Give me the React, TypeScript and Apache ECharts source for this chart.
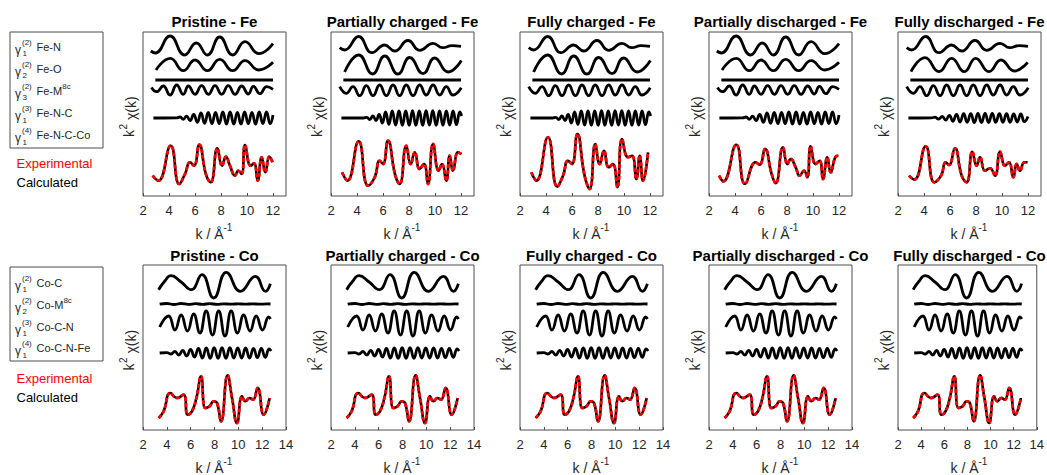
import React, { useEffect, useRef } from 'react';
import * as echarts from 'echarts';

// ---------- text ----------
const FE_TITLES = ['Pristine - Fe', 'Partially charged - Fe', 'Fully charged - Fe', 'Partially discharged - Fe', 'Fully discharged - Fe'];
const CO_TITLES = ['Pristine - Co', 'Partially charged - Co', 'Fully charged - Co', 'Partially discharged - Co', 'Fully discharged - Co'];
// [label, superscript order, subscript index, label superscript]
const FE_LEGEND: [string, string, string, string][] = [
  ['Fe-N', '(2)', '1', ''],
  ['Fe-O', '(2)', '2', ''],
  ['Fe-M', '(2)', '3', '8c'],
  ['Fe-N-C', '(3)', '1', ''],
  ['Fe-N-C-Co', '(4)', '1', ''],
];
const CO_LEGEND: [string, string, string, string][] = [
  ['Co-C', '(2)', '1', ''],
  ['Co-M', '(2)', '2', '8c'],
  ['Co-C-N', '(3)', '1', ''],
  ['Co-C-N-Fe', '(4)', '1', ''],
];

// ---------- axes ----------
const FE_K_MIN = 2;
const FE_K_MAX = 13;
const CO_K_MIN = 2;
const CO_K_MAX = 14;
const K_STEP = 2;

// ---------- Fe row: [k, k^2 chi(k)] (arbitrary units) ----------
const FE_N_A = [[2.6, -5], [2.95, -7], [4.08, 10], [5.2, -9], [6.1, 3], [6.95, -9], [7.9, 9], [8.9, -9], [9.85, 4.3], [10.9, -7.7], [12, 2.3]];
const FE_N_B = [[2.67, -1.7], [3.05, -4], [4.13, 9.5], [5.15, -6.7], [6.13, 1], [6.9, -5], [7.92, 5.5], [8.82, -4.3], [9.85, 2.7], [10.6, -1.7], [11.3, 0.3], [12, -0.3]];
const FE_O_A = [[3.0, -5], [4.1, 6.7], [5.1, -5.7], [6.0, 5], [6.95, -5.7], [7.9, 5.7], [8.9, -5.7], [9.85, 4.3], [10.9, -5], [12, 2.7]];
const FE_O_B = [[3.05, -7], [4.13, 10], [5.2, -9], [6.13, 9], [7.15, -9], [8.05, 7.5], [9.08, -8.7], [9.97, 7], [11.0, -7], [12.03, 4.5]];
const FE_O_C = [[3.0, -6.7], [4.08, 7.3], [5.15, -6.7], [6.13, 6.7], [7.1, -6.7], [7.97, 6.7], [9.0, -6.7], [9.92, 5], [10.95, -6], [11.97, 2.7]];
const FE_M = [[2.95, 0], [12.0, 0]];
const FE_NC_A = [[2.65, 2.5], [3.05, -1.7], [3.56, 4], [4.08, -5], [4.59, 5], [5.1, -4.3], [5.49, 4], [6.0, -4.3], [6.51, 4.3], [7.03, -4.3], [7.54, 4.3], [8.05, -4.3], [8.56, 4.3], [9.08, -4.3], [9.59, 4], [10.1, -4], [10.49, 3.7], [11.0, -3.7], [11.51, 3.3], [12.0, 0.7]];
const FE_NC_B = [[2.67, 3.3], [3.18, -3.3], [3.69, 3.3], [4.21, -5.7], [4.72, 4.3], [5.23, -5.7], [5.74, 5], [6.26, -5.7], [6.77, 5], [7.28, -5.7], [7.79, 5], [8.31, -5.7], [8.82, 5], [9.33, -5], [9.85, 5], [10.36, -5], [10.87, 3.3], [11.38, -5], [12.02, 2.3]];
const FE_NCCO_A = [[2.8, 0], [4.6, 0.2], [4.85, 1], [5.1, -1.3], [5.35, 1.8], [5.62, -2.5], [5.9, 3.5], [6.18, -4.3], [6.46, 5], [6.74, -5.3], [7.02, 5.5], [7.3, -5.7], [7.58, 5.7], [7.86, -5.7], [8.14, 6], [8.42, -6], [8.7, 6], [8.98, -6], [9.26, 5.7], [9.54, -6], [9.82, 6], [10.1, -5.7], [10.38, 5.7], [10.66, -6], [10.94, 6], [11.22, -5.7], [11.5, 6], [11.78, -5.7], [12.0, 3]];
const FE_NCCO_B = [[2.8, 0], [4.5, 0], [4.75, 0.7], [4.98, -1.5], [5.22, 2], [5.46, -2.5], [5.7, 3.5], [5.95, -5], [6.2, 6], [6.45, -6.5], [6.71, 7], [6.97, -7], [7.23, 7], [7.49, -7.3], [7.75, 7], [8.01, -7.3], [8.27, 7.3], [8.53, -7.3], [8.79, 7], [9.05, -7.3], [9.31, 7.3], [9.57, -7], [9.83, 7.3], [10.09, -7.3], [10.35, 7], [10.61, -7.3], [10.87, 7], [11.13, -7], [11.39, 7], [11.65, -6.7], [11.91, 6], [12.05, 2]];
const FE_NCCO_C = [[2.8, 0], [4.6, 0.2], [4.85, 0.8], [5.12, -1.2], [5.4, 1.5], [5.67, -2], [5.95, 2.7], [6.22, -3.3], [6.5, 3.7], [6.77, -4], [7.05, 4.3], [7.32, -4.3], [7.6, 4.3], [7.87, -4.5], [8.15, 4.5], [8.42, -4.5], [8.7, 4.5], [8.97, -4.5], [9.25, 4.5], [9.52, -4.3], [9.8, 4.3], [10.07, -4.3], [10.35, 4.3], [10.62, -4.3], [10.9, 4], [11.17, -4], [11.45, 4], [11.72, -3.7], [12.0, 1.5]];
// total fits (experimental data follows them closely)
const FE_CALC_PRISTINE = [[2.74, -11.7], [3.18, -16.7], [4.13, 18.3], [4.79, -20], [5.23, -10], [5.62, 1.7], [5.92, -1.7], [6.33, 19.3], [6.85, -10.7], [7.21, -18.3], [7.72, 15.7], [8.08, -1.7], [8.38, 7.3], [8.69, -1.7], [9.08, -11.7], [9.33, -6.7], [9.59, -10], [9.85, 19], [10.28, -1.7], [10.54, 0.7], [10.82, -16.7], [11.13, 6.7], [11.41, -8.3], [11.72, 7.3], [11.97, 1.7]];
const FE_CALC_PCH = [[2.85, -8.3], [3.26, -16.7], [4.13, 22.7], [4.85, -21.7], [5.36, -13.3], [5.74, 3.3], [6.0, 0], [6.38, 23.3], [6.95, -11.7], [7.28, -20], [7.79, 18.3], [8.13, 0], [8.44, 11.7], [8.82, -5], [9.15, 0], [9.46, -20], [9.85, 20], [10.28, -6.7], [10.54, 0], [10.87, -16.7], [11.13, 8.3], [11.38, -6.7], [11.77, 11.7], [12.03, 10]];
const FE_CALC_FCH = [[2.87, -8.3], [3.26, -16.7], [4.15, 26.7], [4.87, -22.7], [5.31, -11.7], [5.69, 3.3], [6.0, 0], [6.41, 30], [6.97, -11.7], [7.36, -25], [7.79, 20], [8.13, 0], [8.46, 13.3], [8.82, -3.3], [9.15, 0], [9.49, -23.3], [9.85, 25], [10.31, 6.7], [10.62, 8.3], [10.95, -15], [11.21, 8.3], [11.46, -16.7], [11.85, 11.7]];
const FE_CALC_PDIS = [[2.77, -11.7], [3.1, -17.3], [4.1, 19.3], [4.77, -20], [5.59, 1.7], [5.9, -0.7], [6.31, 15], [6.82, -10], [7.13, -19.3], [7.69, 16.7], [8.03, 0], [8.28, 5], [8.67, -3.3], [8.97, -11.7], [9.31, -6.7], [9.56, -13.3], [9.82, 17.7], [10.2, 0], [10.51, 3.3], [10.77, -15], [11.1, 6.7], [11.36, -8.3], [11.74, 7.3], [11.95, 8.3]];
const FE_CALC_FDIS = [[2.85, -11.7], [3.26, -15.7], [4.13, 17.7], [4.79, -18.3], [5.31, -11.7], [5.67, 1.7], [5.92, -1], [6.38, 15.7], [6.9, -11.7], [7.28, -18.3], [7.72, 12.3], [8.05, -1.7], [8.31, 6.7], [8.69, -6.7], [9.08, -4.3], [9.46, -11.7], [9.85, 12.3], [10.23, -1.7], [10.54, 1.7], [10.87, -13.3], [11.13, 0], [11.38, -6.7], [11.72, 1.7], [11.97, 1.7]];

// ---------- Co row ----------
const CO_C = [[3.31, -6.7], [3.8, 1.5], [4.35, 7.3], [5.2, 1], [6.05, -6.7], [6.95, 8.3], [7.93, -15], [8.99, 10.7], [10.17, -8.3], [11.43, 6.7], [12.27, -8.3], [12.69, -0.7]];
const CO_M = [[3.4, -0.2], [4.0, 0.5], [4.6, -0.5], [5.2, 0.5], [5.8, -0.4], [6.4, 0.3], [7.0, -0.3], [7.6, 0.3], [8.2, -0.3], [8.8, 0.2], [9.4, -0.2], [10.0, 0.2], [10.6, -0.2], [11.2, 0.2], [11.8, -0.2], [12.4, 0.1], [12.7, 0]];
const CO_CN = [[3.4, -4], [4.15, 7], [4.68, -7], [5.2, 8], [5.73, -8], [6.25, 9], [6.78, -10], [7.3, 12], [7.83, -12], [8.35, 12], [8.88, -13], [9.4, 12], [9.93, -10], [10.45, 8], [10.98, -8], [11.5, 7], [12.03, -7], [12.55, 6], [12.7, 4]];
const CO_CNF = [[3.4, 0], [4.0, 0.3], [4.35, -1], [4.68, 1.5], [5.0, -2], [5.33, 2.5], [5.66, -3], [5.99, 3.5], [6.32, -4], [6.65, 4.5], [6.98, -5], [7.31, 5], [7.64, -5.3], [7.97, 5.3], [8.3, -5.3], [8.63, 5.3], [8.96, -5.3], [9.29, 5.3], [9.62, -5], [9.95, 5], [10.28, -5], [10.61, 5], [10.94, -5], [11.27, 4.7], [11.6, -4.7], [11.93, 4.7], [12.26, -4.3], [12.59, 4], [12.75, 2]];
const CO_CALC = [[3.31, -20], [3.73, -13.3], [4.29, 5], [4.85, 0], [5.41, 3.3], [5.75, -16.7], [6.11, -13.3], [6.48, 0], [6.87, 21.7], [7.23, -10], [7.59, -8.3], [7.93, -3.3], [8.21, -5], [8.55, -23.3], [9.1, 22.7], [9.47, 0], [9.89, -25], [10.31, 1.7], [10.59, -3.3], [10.95, 0], [11.23, -1.7], [11.62, 10], [12.13, -16.7], [12.63, 0]];

// vertical stacking offsets of the curves (top to bottom)
const FE_OFFSETS = [150, 131, 116, 106, 78, 32];
const CO_OFFSETS = [147, 126, 107, 77, 32];

const FE_PANELS = [
  [FE_N_A, FE_O_A, FE_M, FE_NC_A, FE_NCCO_A, FE_CALC_PRISTINE],
  [FE_N_B, FE_O_B, FE_M, FE_NC_B, FE_NCCO_B, FE_CALC_PCH],
  [FE_N_B, FE_O_B, FE_M, FE_NC_B, FE_NCCO_B, FE_CALC_FCH],
  [FE_N_A, FE_O_A, FE_M, FE_NC_A, FE_NCCO_A, FE_CALC_PDIS],
  [FE_N_B, FE_O_C, FE_M, FE_NC_B, FE_NCCO_C, FE_CALC_FDIS],
];
const CO_PANELS = [0, 1, 2, 3, 4].map(() => [CO_C, CO_M, CO_CN, CO_CNF, CO_CALC]);

// ---------- layout ----------
const FONT = '"Liberation Sans", Arial, Helvetica, sans-serif';
const PANEL_LEFT = [143, 331, 520, 709, 898];
const PANEL_W = 143;
const ROW_TOP = [32, 265];
const ROW_H = [164, 165];
const GRAY = '#262626';
const BOX = '#4d4d4d';

const txt = (x: number, y: number, text: string, o: any = {}) => ({
  type: 'text',
  x,
  y,
  silent: true,
  z: 10,
  style: {
    text,
    fontSize: o.size || 13,
    fontWeight: o.weight || 'normal',
    fontFamily: FONT,
    fill: o.color || GRAY,
    align: o.align || 'left',
    verticalAlign: 'middle',
  },
});

function buildOption() {
  const grid: any[] = [];
  const xAxis: any[] = [];
  const yAxis: any[] = [];
  const series: any[] = [];
  const graphic: any[] = [];

  const rows = [
    { panels: FE_PANELS, offsets: FE_OFFSETS, titles: FE_TITLES, kmin: FE_K_MIN, kmax: FE_K_MAX },
    { panels: CO_PANELS, offsets: CO_OFFSETS, titles: CO_TITLES, kmin: CO_K_MIN, kmax: CO_K_MAX },
  ];

  rows.forEach((row, r) => {
    row.panels.forEach((curves, c) => {
      const idx = grid.length;
      const left = PANEL_LEFT[c];
      const top = ROW_TOP[r];
      const h = ROW_H[r];
      grid.push({ left, top, width: PANEL_W, height: h, show: true, borderColor: BOX, borderWidth: 1, backgroundColor: '#fff' });
      xAxis.push({
        gridIndex: idx,
        type: 'value',
        min: row.kmin,
        max: row.kmax,
        interval: K_STEP,
        axisLine: { show: false },
        axisTick: { show: true, inside: true, length: 3, lineStyle: { color: BOX } },
        axisLabel: { fontSize: 13, color: GRAY, fontFamily: FONT, margin: 8, showMaxLabel: row.kmax % K_STEP === 0, showMinLabel: true },
        splitLine: { show: false },
      });
      yAxis.push({ gridIndex: idx, type: 'value', min: 0, max: h, show: false });

      curves.forEach((arr, i) => {
        const off = row.offsets[i];
        const data = arr.map(([k, v]) => [k, +(off + v).toFixed(2)]);
        const isFit = i === curves.length - 1;
        series.push({
          type: 'line',
          xAxisIndex: idx,
          yAxisIndex: idx,
          data,
          showSymbol: false,
          smooth: 0.5,
          silent: true,
          z: 2,
          lineStyle: { color: '#000', width: isFit ? 2.6 : 2.8 },
        });
        if (isFit) {
          series.push({
            type: 'line',
            xAxisIndex: idx,
            yAxisIndex: idx,
            data,
            showSymbol: false,
            smooth: 0.5,
            silent: true,
            z: 3,
            lineStyle: { color: '#ff0000', width: 2.8, type: [4, 2] },
          });
        }
      });

      const cx = left + PANEL_W / 2;
      const cy = top + h / 2;
      // title
      graphic.push(txt(cx, r === 0 ? 21 : 255.5, row.titles[c], { size: 15, weight: 'bold', color: '#000', align: 'center' }));
      // x label
      const xy = top + h + 38;
      graphic.push(txt(cx - 19, xy, 'k / Å', { size: 14 }));
      graphic.push(txt(cx + 9, xy - 7, '-1', { size: 10 }));
      // y label (rotated)
      graphic.push({
        type: 'group',
        x: left - 14,
        y: cy,
        rotation: Math.PI / 2,
        children: [
          txt(-23, 0, 'k', { size: 14 }),
          txt(-15.5, -5.5, '2', { size: 10 }),
          txt(-6, 1.5, 'χ(k)', { size: 14 }),
        ],
      });
    });
  });

  // legends
  const legend = (items: [string, string, string, string][], boxY: number, boxH: number, y0: number, step: number, expY: number, calcY: number) => {
    graphic.push({ type: 'rect', shape: { x: 10, y: boxY, width: 93, height: boxH }, style: { fill: '#fff', stroke: BOX, lineWidth: 1 }, z: 5, silent: true });
    items.forEach(([label, sup, sub, lsup], i) => {
      const y = y0 + step * i;
      graphic.push(txt(15, y + 3, 'γ', { size: 12 }));
      graphic.push(txt(22, y - 4.5, sup, { size: 8 }));
      graphic.push(txt(22.5, y + 7, sub, { size: 8 }));
      graphic.push(txt(36.5, y, label, { size: 11 }));
      if (lsup) {
        const w = label === 'Fe-M' ? 25.7 : 26.9;
        graphic.push(txt(36.5 + w, y - 4, lsup, { size: 8 }));
      }
    });
    graphic.push(txt(16.5, expY, 'Experimental', { size: 13, color: '#ff0000' }));
    graphic.push(txt(16.5, calcY, 'Calculated', { size: 13, color: '#000' }));
  };
  legend(FE_LEGEND, 32, 116, 46.7, 22.1, 163, 182);
  legend(CO_LEGEND, 267, 94, 282.7, 21.9, 378.3, 397.3);

  return { animation: false, backgroundColor: '#fff', grid, xAxis, yAxis, series, graphic };
}

export default function App() {
  const ref = useRef<HTMLDivElement>(null);
  useEffect(() => {
    if (!ref.current) return;
    const chart = echarts.init(ref.current, undefined, { renderer: 'svg' });
    chart.setOption(buildOption() as any);
    return () => chart.dispose();
  }, []);
  return <div ref={ref} style={{ position: 'absolute', left: 0, top: 0, width: 1047, height: 475, background: '#fff' }} />;
}
